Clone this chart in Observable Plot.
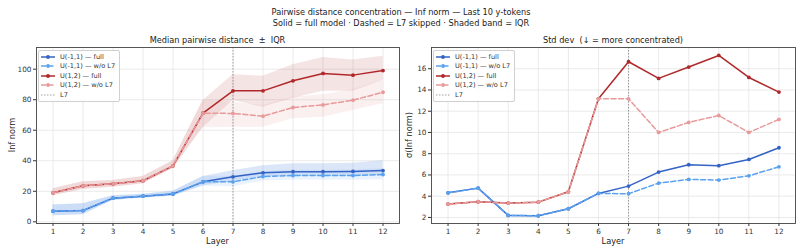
<!DOCTYPE html>
<html>
<head>
<meta charset="utf-8">
<script src="https://cdn.jsdelivr.net/npm/d3@7"></script>
<script src="https://cdn.jsdelivr.net/npm/@observablehq/plot@0.6"></script>
<style>
  body { margin: 0; background: #fff; }
  #root { position: relative; width: 802px; height: 252px; font-family: "DejaVu Sans", sans-serif; color: #222; }
  .t { position: absolute; text-align: center; white-space: pre; }
  .plot { position: absolute; top: 0; }
  .legend { position: absolute; background: rgba(255,255,255,0.85); border: 1px solid #d0d0d0; border-radius: 2px; font-size: 6.6px; padding: 1px 4px 1px 2px; color: #333; }
  .legend div { display: flex; align-items: center; height: 9.5px; }
  .legend svg { margin-right: 5px; }
</style>
</head>
<body>
<div id="root"></div>
<script>
// ---- data ----
const layers = [1, 2, 3, 4, 5, 6, 7, 8, 9, 10, 11, 12];
const skipLayer = 7;

// Median pairwise distance (Inf norm) and IQR
const uFullMed = [7.0, 7.4, 15.5, 16.8, 18.3, 26.2, 29.5, 32.1, 32.8, 32.8, 33.0, 33.6];
const uFullQ1  = [4.0, 4.6, 14.0, 15.6, 16.8, 23.4, 26.5, 29.5, 30.0, 30.0, 30.0, 30.2];
const uFullQ3  = [11.0, 11.8, 17.0, 18.0, 20.0, 29.7, 33.5, 36.8, 38.0, 38.0, 38.4, 40.0];
const uSkipMed = [7.0, 7.4, 15.5, 16.8, 18.3, 26.2, 26.2, 29.7, 30.3, 30.3, 30.3, 31.0];
const uSkipQ1  = [4.0, 4.6, 14.0, 15.6, 16.8, 23.4, 23.0, 26.8, 27.3, 27.3, 27.3, 27.5];
const uSkipQ3  = [11.0, 11.8, 17.0, 18.0, 20.0, 29.7, 29.8, 33.0, 33.8, 33.8, 34.0, 35.0];

const rFullMed = [19.0, 23.6, 24.9, 26.9, 36.7, 71.2, 85.8, 85.8, 92.4, 97.2, 96.1, 99.1];
const rFullQ1  = [17.0, 21.2, 22.7, 24.9, 34.7, 61.6, 79.5, 75.1, 81.0, 85.6, 85.6, 92.6];
const rFullQ3  = [21.6, 26.2, 27.0, 29.7, 40.0, 79.5, 96.3, 95.4, 102.9, 107.7, 106.0, 108.5];
const rSkipMed = [19.0, 23.6, 24.9, 26.9, 36.7, 71.2, 71.0, 69.2, 74.9, 76.6, 79.7, 84.9];
const rSkipQ1  = [17.0, 21.2, 22.7, 24.9, 34.7, 61.6, 62.0, 62.0, 67.5, 68.5, 73.0, 77.3];
const rSkipQ3  = [21.6, 26.2, 27.0, 29.7, 40.0, 79.5, 78.4, 76.2, 81.7, 83.2, 86.5, 92.6];

// Std dev of Inf norm
const uFullStd = [4.32, 4.76, 2.19, 2.16, 2.82, 4.26, 4.95, 6.27, 6.96, 6.87, 7.46, 8.56];
const uSkipStd = [4.32, 4.76, 2.19, 2.16, 2.82, 4.26, 4.23, 5.23, 5.58, 5.52, 5.92, 6.77];
const rFullStd = [3.26, 3.48, 3.35, 3.44, 4.42, 13.17, 16.66, 15.09, 16.16, 17.25, 15.18, 13.80];
const rSkipStd = [3.26, 3.48, 3.35, 3.44, 4.42, 13.17, 13.17, 10.00, 10.95, 11.60, 10.00, 11.23];

const seriesNames = ["U(-1,1) — full", "U(-1,1) — w/o L7", "U(1,2) — full", "U(1,2) — w/o L7"];
const leftTicks = [0, 20, 40, 60, 80, 100];
const rightTicks = [2, 4, 6, 8, 10, 12, 14, 16];

// ---- styles ----
const styles = [
  {name: seriesNames[0], color: "#3463c6", band: "#5b8ee0", bandOp: 0.22, dash: null},
  {name: seriesNames[1], color: "#5aa2ef", band: "#8cbcf2", bandOp: 0.18, dash: "5,2.5"},
  {name: seriesNames[2], color: "#b0282a", band: "#c25a5a", bandOp: 0.16, dash: null},
  {name: seriesNames[3], color: "#e8999a", band: "#e8a0a0", bandOp: 0.16, dash: "5,2.5"}
];
const medSets = [[uFullMed, uFullQ1, uFullQ3], [uSkipMed, uSkipQ1, uSkipQ3], [rFullMed, rFullQ1, rFullQ3], [rSkipMed, rSkipQ1, rSkipQ3]];
const stdSets = [uFullStd, uSkipStd, rFullStd, rSkipStd];

const medRows = medSets.map(([m, q1, q3]) => layers.map((l, i) => ({layer: l, med: m[i], q1: q1[i], q3: q3[i]})));
const stdRows = stdSets.map(s => layers.map((l, i) => ({layer: l, v: s[i]})));

const root = document.getElementById("root");
function addText(txt, left, top, width, size, rotate) {
  const d = document.createElement("div");
  d.className = "t";
  d.textContent = txt;
  Object.assign(d.style, {left: left + "px", top: top + "px", width: width + "px", fontSize: size + "px", lineHeight: "10px"});
  if (rotate) { d.style.transform = "rotate(-90deg)"; d.style.transformOrigin = "center center"; }
  root.appendChild(d);
  return d;
}
addText("Pairwise distance concentration — Inf norm — Last 10 y-tokens", 0, 7, 802, 8.2);
addText("Solid = full model · Dashed = L7 skipped · Shaded band = IQR", 0, 18, 802, 8.2);
addText("Median pairwise distance  ±  IQR", 36, 35, 363, 8.2);
addText("Std dev  (↓ = more concentrated)", 431, 35, 364, 8.2);
addText("Layer", 36, 236, 363, 8.2);
addText("Layer", 431, 236, 364, 8.2);
addText("Inf norm", 12 - 50, 130, 100, 8.2, true);
addText("σ(Inf norm)", 409 - 50, 130, 100, 8.2, true);

const common = {
  height: 252, marginTop: 47, marginBottom: 29,
  style: {fontFamily: "DejaVu Sans, sans-serif", fontSize: "7.3px", color: "#333", background: "transparent", overflow: "visible"},
  x: {type: "linear", domain: [0.45, 12.55]}
};

function lineMarks(rowsSets, yKey) {
  const m = [];
  rowsSets.forEach((rows, k) => {
    const s = styles[k];
    m.push(Plot.lineY(rows, {x: "layer", y: yKey, stroke: s.color, strokeWidth: 1.5, strokeDasharray: s.dash, curve: "linear"}));
    m.push(Plot.dot(rows, {x: "layer", y: yKey, r: 1.9, fill: s.color, stroke: "none"}));
  });
  return m;
}

function axes(yTicks) {
  return [
    Plot.gridX(layers, {stroke: "#e4e4e4", strokeOpacity: 1, strokeWidth: 0.8}),
    Plot.gridY(yTicks, {stroke: "#e4e4e4", strokeOpacity: 1, strokeWidth: 0.8}),
    Plot.axisX(layers, {tickSize: 3, tickPadding: 2, label: null, fontSize: 7.3}),
    Plot.axisY(yTicks, {tickSize: 3, tickPadding: 2, label: null, fontSize: 7.3})
  ];
}

const left = Plot.plot({
  ...common,
  width: 405, marginLeft: 36, marginRight: 6,
  y: {domain: [-1.1, 114.2]},
  marks: [
    ...axes(leftTicks),
    ...medRows.map((rows, k) => Plot.areaY(rows, {x: "layer", y1: "q1", y2: "q3", fill: styles[k].band, fillOpacity: styles[k].bandOp})),
    Plot.ruleX([skipLayer], {stroke: "#888", strokeWidth: 0.8, strokeDasharray: "1.5,1.5"}),
    ...lineMarks(medRows, "med"),
    Plot.frame({stroke: "#444", strokeWidth: 0.9})
  ]
});
left.classList.add("plot");
left.style.left = "0px";
root.appendChild(left);

const right = Plot.plot({
  ...common,
  width: 397, marginLeft: 26, marginRight: 7,
  y: {domain: [1.43, 18.0]},
  marks: [
    ...axes(rightTicks),
    Plot.ruleX([skipLayer], {stroke: "#888", strokeWidth: 0.8, strokeDasharray: "1.5,1.5"}),
    ...lineMarks(stdRows, "v"),
    Plot.frame({stroke: "#444", strokeWidth: 0.9})
  ]
});
right.classList.add("plot");
right.style.left = "405px";
root.appendChild(right);

function addLegend(leftPx, topPx) {
  const box = document.createElement("div");
  box.className = "legend";
  box.style.left = leftPx + "px";
  box.style.top = topPx + "px";
  const entries = styles.map(s => ({name: s.name, color: s.color, dash: s.dash, dot: true, w: 1.5}))
    .concat([{name: "L7", color: "#888", dash: "1.5,1.5", dot: false, w: 0.8}]);
  entries.forEach(e => {
    const row = document.createElement("div");
    const svg = d3.create("svg").attr("width", 14).attr("height", 8);
    svg.append("line").attr("x1", 0).attr("x2", 14).attr("y1", 4).attr("y2", 4)
      .attr("stroke", e.color).attr("stroke-width", e.w).attr("stroke-dasharray", e.dash);
    if (e.dot) svg.append("circle").attr("cx", 7).attr("cy", 4).attr("r", 1.9).attr("fill", e.color);
    row.appendChild(svg.node());
    const span = document.createElement("span");
    span.textContent = e.name;
    row.appendChild(span);
    box.appendChild(row);
  });
  root.appendChild(box);
}
addLegend(38, 50);
addLegend(433, 50);
</script>
</body>
</html>
